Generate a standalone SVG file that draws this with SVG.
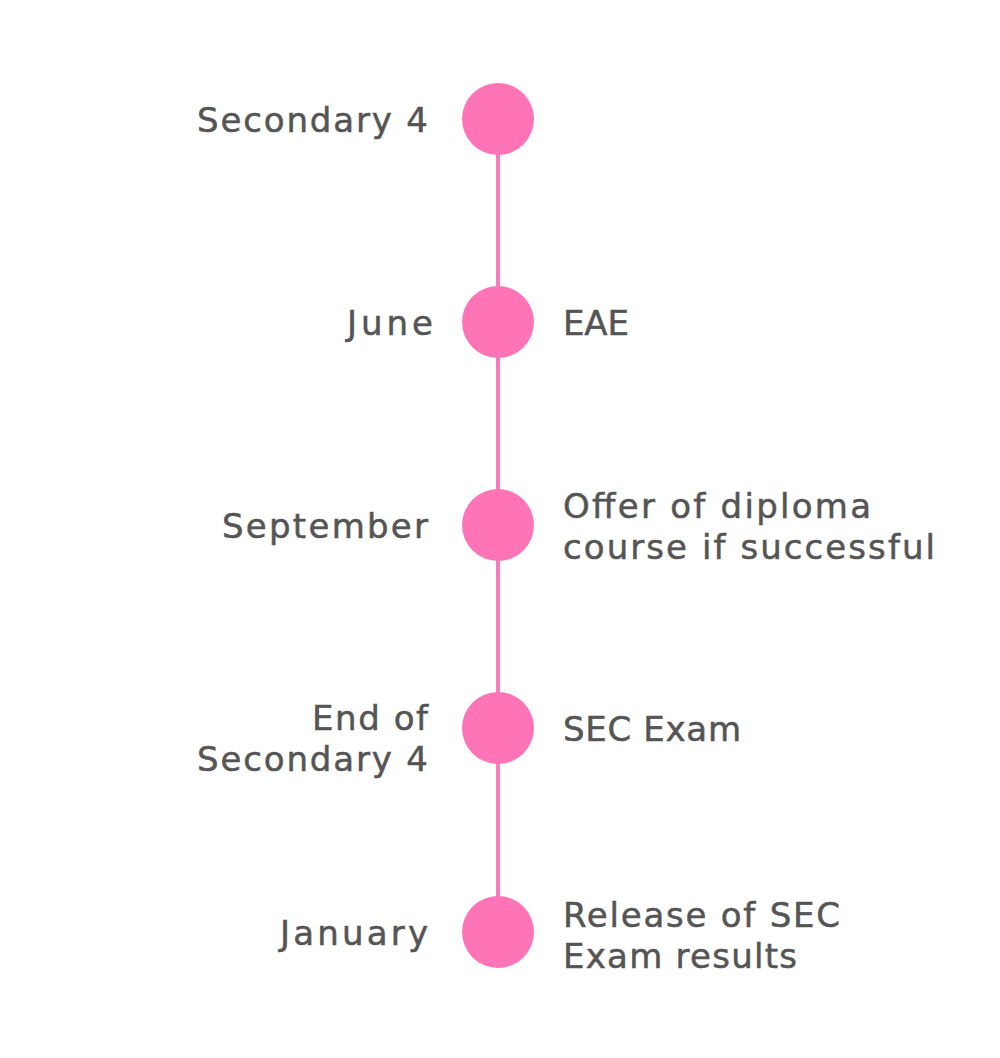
<svg xmlns="http://www.w3.org/2000/svg" width="1000" height="1058" viewBox="0 0 1000 1058">
<style>
.lbl{font-family:"DejaVu Sans","Liberation Sans",sans-serif;font-size:34px;fill:#555555;stroke:#555555;stroke-width:0.5;}
.l{text-anchor:end;}
.dot{fill:#FF74B6;}
.conn{stroke:#F57DBA;stroke-width:4;fill:none;}
</style>
<rect width="1000" height="1058" fill="#ffffff"/>
<g id="connectors">
<line class="conn" x1="498" y1="119" x2="498" y2="932"/>
</g>
<g id="node-secondary4">
<circle class="dot" cx="498" cy="119" r="36"/>
<text class="lbl l" x="428" y="132" textLength="231" lengthAdjust="spacing">Secondary 4</text>
</g>
<g id="node-june">
<circle class="dot" cx="498" cy="322" r="36"/>
<text class="lbl l" x="433" y="335" textLength="86" lengthAdjust="spacing">June</text>
<text class="lbl" x="563" y="335" textLength="66" lengthAdjust="spacing">EAE</text>
</g>
<g id="node-september">
<circle class="dot" cx="498" cy="525" r="36"/>
<text class="lbl l" x="428" y="538" textLength="206" lengthAdjust="spacing">September</text>
<text class="lbl" x="563" y="518" textLength="308" lengthAdjust="spacing">Offer of diploma</text>
<text class="lbl" x="563" y="559" textLength="372" lengthAdjust="spacing">course if successful</text>
</g>
<g id="node-end">
<circle class="dot" cx="498" cy="728" r="36"/>
<text class="lbl l" x="428" y="730" textLength="116" lengthAdjust="spacing">End of</text>
<text class="lbl l" x="428" y="771" textLength="231" lengthAdjust="spacing">Secondary 4</text>
<text class="lbl" x="563" y="741" textLength="178" lengthAdjust="spacing">SEC Exam</text>
</g>
<g id="node-january">
<circle class="dot" cx="498" cy="932" r="36"/>
<text class="lbl l" x="428" y="945" textLength="148" lengthAdjust="spacing">January</text>
<text class="lbl" x="563" y="927" textLength="277" lengthAdjust="spacing">Release of SEC</text>
<text class="lbl" x="563" y="968" textLength="234" lengthAdjust="spacing">Exam results</text>
</g>
</svg>
